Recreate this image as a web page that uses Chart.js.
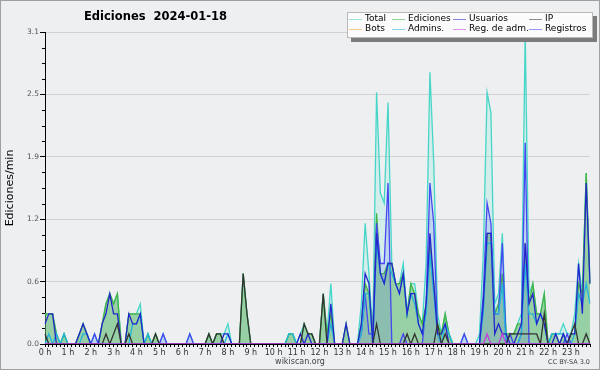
<!DOCTYPE html>
<html><head><meta charset="utf-8">
<script src="https://cdn.jsdelivr.net/npm/chart.js@4.4.1/dist/chart.umd.min.js"></script>
<style>html,body{margin:0;padding:0;background:#eeeff1;}canvas{display:block;}</style>
</head><body>
<canvas id="c" width="600" height="370"></canvas>
<script>
const titleText = 'Ediciones  2024-01-18';
const yTitle = 'Ediciones/min';
const hourLabels = ['0 h','1 h','2 h','3 h','4 h','5 h','6 h','7 h','8 h','9 h','10 h','11 h','12 h','13 h','14 h','15 h','16 h','17 h','18 h','19 h','20 h','21 h','22 h','23 h'];
const yTickLabels = ['0.0','0.6','1.2','1.9','2.5','3.1'];
const yMax = 3.1;
const seriesNames = ['Total','Ediciones','Usuarios','IP','Bots','Admins.','Reg. de adm.','Registros'];

// 10-minute slots, edits per minute
const total = [
.3,.3,.3,.1,0,.1, 0,0,0,.1,.2,.1, 0,.1,0,.2,.4,.5, .4,.5,0,0,.3,.3,
.3,.4,0,.1,0,.1, 0,.1,0,0,0,0, 0,0,.1,0,0,0, 0,.1,0,.1,.1,.1,
.2,0,0,0,.7,.3, 0,0,0,0,0,0, 0,0,0,0,.1,.1, 0,.1,.2,.1,.1,0,
0,.5,.1,.6,0,0, 0,.2,0,0,0,.4, 1.2,.7,.1,2.5,1.5,1.4, 2.4,.8,.6,.6,.8,.3,
.6,.6,.3,.2,.8,2.7, 1.8,.3,.1,.3,.1,0, 0,0,.1,0,0,0, .1,.9,2.5,2.3,.4,.5,
1.1,.1,.1,.1,.2,.3, 3.1,.5,.6,.3,.3,.5, 0,.1,.1,.1,.2,.1, .1,.3,.8,.5,1.7,.6];
const ediciones = [
.3,.3,.3,.1,0,.1, 0,0,0,.1,.2,.1, 0,0,0,.2,.4,.5, .4,.5,0,0,.3,.3,
.3,.3,0,.1,0,.1, 0,0,0,0,0,0, 0,0,0,0,0,0, 0,.1,0,.1,.1,0,
0,0,0,0,.7,.3, 0,0,0,0,0,0, 0,0,0,0,.1,.1, 0,0,.2,.1,.1,0,
0,.5,.1,.3,0,0, 0,.2,0,0,0,.2, .6,.5,.1,1.3,.7,.7, .8,.8,.6,.6,.7,.3,
.6,.5,.3,.2,.4,1.0, .6,.2,.1,.3,.1,0, 0,0,0,0,0,0, 0,.4,1.1,1.1,.3,.4,
.7,.1,.1,.1,.2,.2, 1.0,.4,.6,.3,.3,.5, 0,.1,.1,0,.1,0, .1,.1,.6,.5,1.7,.6];
const usuarios = [
.2,.3,.3,0,0,0, 0,0,0,.1,.2,.1, 0,0,0,.2,.3,.5, .3,.3,0,0,.3,.2,
.2,.3,0,0,0,0, 0,0,0,0,0,0, 0,0,0,0,0,0, 0,0,0,0,0,.1,
.1,0,0,0,0,0, 0,0,0,0,0,0, 0,0,0,0,0,0, 0,.1,0,.1,0,0,
0,0,0,.4,0,0, 0,.2,0,0,0,.2, .7,.6,0,1.1,.7,.6, .8,.8,.6,.5,.7,.3,
.5,.5,.2,.1,.4,1.1, .6,.1,.1,.2,0,0, 0,0,0,0,0,0, 0,.4,1.1,1.1,.1,.2,
.1,.1,0,0,.1,.2, 1.0,.4,.5,.2,.3,.2, 0,0,.1,0,.1,0, .1,.1,.8,.3,1.6,.6];
const ip = [
.1,0,0,0,0,0, 0,0,0,0,0,0, 0,0,0,0,.1,0, .1,.2,0,0,.1,0,
0,0,0,0,0,.1, 0,0,0,0,0,0, 0,0,0,0,0,0, 0,.1,0,.1,.1,0,
0,0,0,0,.7,.3, 0,0,0,0,0,0, 0,0,0,0,0,0, 0,0,.2,.1,.1,0,
0,.5,0,0,0,0, 0,0,0,0,0,0, 0,0,0,.2,0,0, 0,0,0,0,0,.1,
0,.1,0,0,0,0, 0,.2,0,.1,0,0, 0,0,0,0,0,0, 0,0,0,0,0,0,
0,0,.1,.1,.1,.1, .1,.1,.1,.1,0,.3, 0,0,0,0,0,0, .1,.2,0,0,.1,0];
const bots = [
0,0,0,0,0,0, 0,0,0,0,0,0, 0,0,0,0,0,0, 0,0,0,0,0,0,
0,0,0,0,0,0, 0,0,0,0,0,0, 0,0,0,0,0,0, 0,0,0,0,0,0,
0,0,0,0,0,0, 0,0,0,0,0,0, 0,0,0,0,0,0, 0,0,0,0,0,0,
0,0,0,0,0,0, 0,0,0,0,0,0, 0,0,0,0,0,0, 0,0,0,0,0,0,
0,0,0,0,0,0, 0,0,0,0,0,0, 0,0,0,0,0,0, 0,0,0,0,0,0,
0,0,0,0,0,0, 0,0,0,0,0,0, 0,0,0,0,0,0, 0,0,0,0,0,0];
const admins = [
0,.1,0,.1,0,.1, 0,0,0,0,.1,.1, 0,0,0,0,0,0, 0,0,0,0,0,.2,
.2,.3,0,.1,0,0, 0,0,0,0,0,0, 0,0,0,0,0,0, 0,0,0,0,0,0,
.1,0,0,0,0,0, 0,0,0,0,0,0, 0,0,0,0,.1,.1, 0,0,0,0,0,0,
0,0,0,.2,0,0, 0,0,0,0,0,.1, .5,.5,0,1.0,.7,.6, .8,.7,.6,.5,.7,.3,
.5,.4,.2,.1,.3,.9, .5,.1,0,.2,.1,0, 0,0,0,0,0,0, 0,.3,1.0,1.0,.3,.3,
.6,0,0,0,0,.1, .8,.3,.3,.2,.3,.2, 0,.1,.1,.1,.1,0, 0,.1,.5,.4,.6,.4];
const regAdm = [
0,0,0,0,0,0, 0,0,0,0,0,0, 0,0,0,0,0,0, 0,0,0,0,0,0,
0,0,0,0,0,0, 0,0,0,0,0,0, 0,0,0,0,0,0, 0,0,0,0,0,0,
0,0,0,0,0,0, 0,0,0,0,0,0, 0,0,0,0,0,0, 0,0,0,0,0,0,
0,0,0,0,0,0, 0,0,0,0,0,0, 0,0,0,0,0,0, 0,0,0,0,0,0,
0,0,0,0,0,0, 0,0,0,0,0,0, 0,0,0,0,0,0, 0,0,.1,0,0,0,
.1,0,0,0,0,0, 0,0,0,0,0,0, 0,0,0,0,0,0, 0,0,0,0,0,0];
const registros = [
0,0,0,0,0,0, 0,0,0,0,0,0, 0,.1,0,0,0,0, 0,0,0,0,0,0,
0,0,0,0,0,0, 0,.1,0,0,0,0, 0,0,.1,0,0,0, 0,0,0,0,0,0,
0,0,0,0,0,0, 0,0,0,0,0,0, 0,0,0,0,0,0, 0,0,0,0,0,0,
0,0,0,0,0,0, 0,0,0,0,0,.1, .5,.1,.1,1.2,.8,.8, 1.6,0,0,0,.1,0,
0,0,0,0,.4,1.6, 1.2,.1,0,0,0,0, 0,0,.1,0,0,0, 0,.5,1.4,1.2,.3,.3,
1.0,0,.1,0,0,.1, 2.0,0,0,0,0,0, 0,0,0,0,0,.1, 0,0,0,0,0,0];

// category slots (10 min each)
const slots = [];
hourLabels.forEach((h, hi) => { for (let m = 0; m < 60; m += 10) slots.push(hi + ':' + String(m).padStart(2, '0')); });

const styles = [
  {c:'#45d6c8', fill:'rgba(120,230,215,0.22)', order:10},
  {c:'#44b444', fill:'rgba(80,175,80,0.46)', order:9},
  {c:'#2424cc', fill:false, order:5},
  {c:'#333333', fill:false, order:4},
  {c:'#f0a030', fill:false, order:11},
  {c:'#22b4dc', fill:false, order:6},
  {c:'#c040d8', fill:false, order:3},
  {c:'#4646f2', fill:'rgba(80,100,240,0.16)', order:7}
];
const values = [total, ediciones, usuarios, ip, bots, admins, regAdm, registros];

const datasets = seriesNames.map((n, k) => ({
  label: n, data: values[k], borderColor: styles[k].c, borderWidth: 1.3,
  backgroundColor: styles[k].fill || 'transparent', fill: styles[k].fill ? 'origin' : false,
  pointRadius: 0, tension: 0, order: styles[k].order
}));

const deco = {
  id: 'deco',
  beforeDraw(chart) {
    const ctx = chart.ctx;
    ctx.save(); ctx.fillStyle = '#eeeff1'; ctx.fillRect(0, 0, chart.width, chart.height); ctx.restore();
  },
  afterDraw(chart) {
    const ctx = chart.ctx, y = chart.scales.y, a = chart.chartArea;
    ctx.save();
    // minor y ticks
    ctx.strokeStyle = '#000'; ctx.lineWidth = 1;
    for (let k = 0; k <= 20; k++) {
      if (k % 4 === 0) continue;
      const py = Math.round(y.getPixelForValue(k * yMax / 20)) + 0.5;
      ctx.beginPath(); ctx.moveTo(a.left - 3, py); ctx.lineTo(a.left, py); ctx.stroke();
    }
    // title
    ctx.fillStyle = '#000'; ctx.font = 'bold 11.5px "DejaVu Sans"'; ctx.textBaseline = 'middle'; ctx.textAlign = 'left';
    ctx.fillText(titleText, 84, 17);
    // legend
    const bx = 347, by = 12, bw = 246, bh = 26;
    ctx.fillStyle = '#7c7c7c'; ctx.fillRect(bx + 4, by + 4, bw, bh);
    ctx.fillStyle = '#fbfbfb'; ctx.fillRect(bx, by, bw, bh);
    ctx.strokeStyle = '#b8b8b8'; ctx.strokeRect(bx + 0.5, by + 0.5, bw - 1, bh - 1);
    const cols = [349, 392, 453, 529], rows = [19, 29];
    ctx.font = '9px "DejaVu Sans"'; ctx.textBaseline = 'middle';
    chart.data.datasets.forEach((d, k) => {
      const cx = cols[k % 4], cy = rows[Math.floor(k / 4)];
      ctx.strokeStyle = d.borderColor; ctx.globalAlpha = 0.55; ctx.lineWidth = 1;
      ctx.beginPath(); ctx.moveTo(cx, cy + 0.5); ctx.lineTo(cx + 13, cy + 0.5); ctx.stroke();
      ctx.globalAlpha = 1; ctx.fillStyle = '#000';
      ctx.fillText(d.label, cx + 16, cy);
    });
    // footer
    ctx.fillStyle = '#444'; ctx.font = '8px "DejaVu Sans"'; ctx.textAlign = 'center';
    ctx.fillText('wikiscan.org', 300, 362);
    ctx.font = '6.5px "DejaVu Sans"'; ctx.textAlign = 'right';
    ctx.fillText('CC BY-SA 3.0', 590, 362);
    // frame
    ctx.strokeStyle = '#a0a0a0'; ctx.lineWidth = 1; ctx.strokeRect(0.5, 0.5, chart.width - 1, chart.height - 1);
    ctx.restore();
  }
};

new Chart(document.getElementById('c'), {
  type: 'line',
  data: { labels: slots, datasets },
  options: {
    responsive: false, animation: false, devicePixelRatio: 1,
    layout: { padding: { left: 0, right: 10, top: 32, bottom: 0 } },
    plugins: { legend: { display: false }, tooltip: { enabled: false }, title: { display: false } },
    scales: {
      x: {
        type: 'category', z: 1,
        border: { color: '#000', width: 1 },
        grid: { drawOnChartArea: false, drawTicks: true, tickLength: 3, tickColor: '#000' },
        ticks: { autoSkip: false, maxRotation: 0, minRotation: 0, padding: 1, color: '#333',
          font: { family: 'DejaVu Sans', size: 8 },
          callback: (v, i) => (i % 6 === 0 ? hourLabels[i / 6] : '') },
        afterFit: s => { s.height = 26; }
      },
      y: {
        min: 0, max: yMax,
        border: { color: '#000', width: 1 },
        grid: { color: '#d2d2d2', tickColor: '#000', tickLength: 5 },
        afterBuildTicks: s => { s.ticks = yTickLabels.map((t, k) => ({ value: k * yMax / (yTickLabels.length - 1) })); },
        ticks: { padding: 1, color: '#555', font: { family: 'DejaVu Sans', size: 7.5 },
          callback: (v, i) => yTickLabels[i] },
        title: { display: true, text: yTitle, color: '#000', font: { family: 'DejaVu Sans', size: 11 }, padding: { top: 4, bottom: 4 } },
        afterFit: s => { s.width = 45; }
      }
    }
  },
  plugins: [deco]
});
</script>
</body></html>
